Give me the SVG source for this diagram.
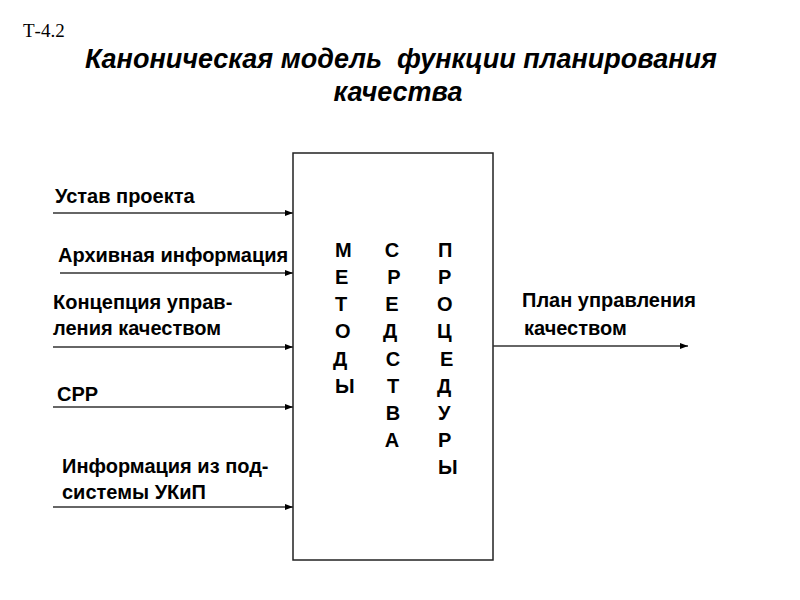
<svg xmlns="http://www.w3.org/2000/svg" width="800" height="600" viewBox="0 0 800 600">
<defs>
<marker id="ah" markerWidth="8" markerHeight="6" refX="8" refY="3" orient="auto" markerUnits="userSpaceOnUse">
<path d="M0,0 L8,3 L0,6 Z" fill="#000"/>
</marker>
<style>
.lbl{font-family:"Liberation Sans",Arial,sans-serif;font-size:20px;font-weight:bold;fill:#000}
.let{font-family:"Liberation Sans",Arial,sans-serif;font-size:20px;font-weight:bold;fill:#000}
.title{font-family:"Liberation Sans",Arial,sans-serif;font-size:27px;font-weight:bold;font-style:italic;fill:#000}
.conn{stroke:#333;stroke-width:1.5;fill:none;marker-end:url(#ah)}
</style>
</defs>
<rect width="800" height="600" fill="#fff"/>
<text x="23" y="37" style="font-family:'Liberation Serif','Times New Roman',serif;font-size:19px;fill:#000">Т-4.2</text>
<text class="title" x="401" y="68" text-anchor="middle" xml:space="preserve">Каноническая модель  функции планирования</text>
<text class="title" x="398" y="101" text-anchor="middle">качества</text>

<g id="process">
<rect x="293" y="153" width="200" height="407" fill="#fff" stroke="#222" stroke-width="1.5"/>
<g class="let">
<text x="335" y="257">М</text><text x="335" y="284">Е</text><text x="335" y="311">Т</text><text x="335" y="338">О</text><text x="333" y="366">Д</text><text x="335" y="393">Ы</text>
</g>
<g class="let" text-anchor="middle">
<text x="392" y="257">С</text><text x="394" y="284">Р</text><text x="392" y="311">Е</text><text x="390" y="338">Д</text><text x="393" y="366">С</text><text x="393" y="393">Т</text><text x="393" y="420">В</text><text x="392" y="447">А</text>
</g>
<g class="let">
<text x="438" y="257">П</text><text x="438" y="284">Р</text><text x="437" y="311">О</text><text x="437" y="338">Ц</text><text x="440" y="366">Е</text><text x="437" y="393">Д</text><text x="438" y="420">У</text><text x="438" y="447">Р</text><text x="438" y="474">Ы</text>
</g>
</g>

<g id="in1"><text class="lbl" x="55" y="203">Устав проекта</text></g>
<g id="in2"><text class="lbl" x="58" y="262">Архивная информация</text></g>
<g id="in3"><text class="lbl" x="53" y="309">Концепция управ-</text><text class="lbl" x="53" y="335">ления качеством</text></g>
<g id="in4"><text class="lbl" x="57" y="401">СРР</text></g>
<g id="in5"><text class="lbl" x="62" y="473">Информация из под-</text><text class="lbl" x="62" y="499">системы УКиП</text></g>
<g id="out1"><text class="lbl" x="522" y="307">План управления</text><text class="lbl" x="524" y="335">качеством</text></g>

<g id="connectors">
<line class="conn" x1="53" y1="213" x2="293" y2="213"/>
<line class="conn" x1="60" y1="273" x2="293" y2="273"/>
<line class="conn" x1="53" y1="347" x2="293" y2="347"/>
<line class="conn" x1="53" y1="407" x2="293" y2="407"/>
<line class="conn" x1="53" y1="507" x2="293" y2="507"/>
<line class="conn" x1="493" y1="346" x2="688" y2="346"/>
</g>
</svg>
